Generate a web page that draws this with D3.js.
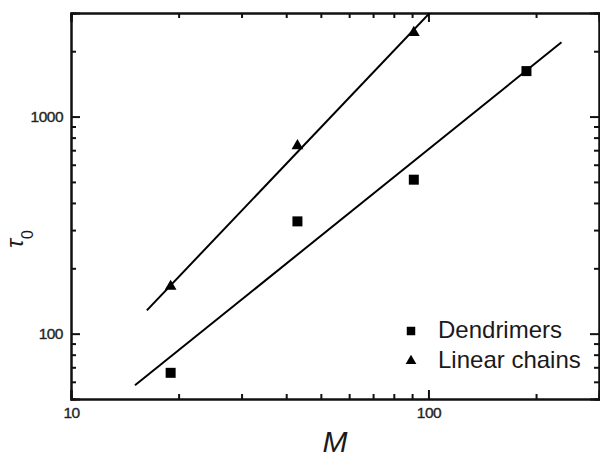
<!DOCTYPE html>
<html>
<head>
<script src="https://d3js.org/d3.v7.min.js"></script>
<style>
  body { margin: 0; background: #fff; }
  text { font-family: "Liberation Sans", Arial, sans-serif; fill: #1a1a1a; }
</style>
</head>
<body>
<script>
// data
var dendM = [19, 43, 91, 188];
var dendTau = [66, 329, 512, 1620];
var chainM = [19, 43, 91];
var chainTau = [165, 733, 2440];
// fitted lines (end points in data units)
var dendFitM = [15.1, 235.6];
var dendFitTau = [57.8, 2198];
var chainFitM = [16.3, 110];
var chainFitTau = [128, 3490];

var xMajor = [10, 100];
var xMinor = [20, 30, 40, 50, 60, 70, 80, 90, 200];
var yMajor = [100, 1000];
var yMinor = [60, 70, 80, 90, 200, 300, 400, 500, 600, 700, 800, 900, 2000];

var legendNames = ["Dendrimers", "Linear chains"];

var W = 600, H = 457;
var mLeft = 71, mRight = 599, mTop = 13, mBottom = 399;

var svg = d3.select("body").append("svg")
    .attr("width", W).attr("height", H);

var x = d3.scaleLog().domain([10, 300]).range([mLeft, mRight]);
var y = d3.scaleLog().domain([50, 3000]).range([mBottom, mTop]);

svg.append("clipPath").attr("id", "clip")
  .append("rect").attr("x", mLeft).attr("y", mTop)
  .attr("width", mRight - mLeft).attr("height", mBottom - mTop);

// axes, ticks pointing inward on all four sides
function drawAxis(axisFn, scale, pos, major, minor, labels) {
  var g = svg.append("g").attr("transform", pos);
  g.call(axisFn(scale).tickValues(minor).tickSize(-5).tickFormat(""));
  var g2 = svg.append("g").attr("transform", pos);
  g2.call(axisFn(scale).tickValues(major).tickSize(-9).tickPadding(labels ? 8 : 0)
      .tickFormat(labels ? d3.format("d") : ""));
  [g, g2].forEach(function(a) {
    a.attr("font-size", null).attr("font-family", null);
    a.selectAll("path").attr("stroke", "#111").attr("stroke-width", 2);
    a.selectAll("line").attr("stroke", "#111").attr("stroke-width", 2);
    a.selectAll("text").style("font-size", "15.5px").attr("fill", "#111")
      .attr("stroke", "#333").attr("stroke-width", 0.4).style("letter-spacing", "-0.5px");
  });
}
drawAxis(d3.axisBottom, x, "translate(0," + mBottom + ")", xMajor, xMinor, true);
drawAxis(d3.axisTop, x, "translate(0," + mTop + ")", xMajor, xMinor, false);
drawAxis(d3.axisLeft, y, "translate(" + mLeft + ",0)", yMajor, yMinor, true);
drawAxis(d3.axisRight, y, "translate(" + mRight + ",0)", yMajor, yMinor, false);

// fit lines
var line = d3.line().x(function(d) { return x(d[0]); }).y(function(d) { return y(d[1]); });
var plot = svg.append("g").attr("clip-path", "url(#clip)");
plot.append("path").datum(d3.zip(dendFitM, dendFitTau))
  .attr("d", line).attr("fill", "none").attr("stroke", "#000").attr("stroke-width", 2);
plot.append("path").datum(d3.zip(chainFitM, chainFitTau))
  .attr("d", line).attr("fill", "none").attr("stroke", "#000").attr("stroke-width", 2);

// points
var sq = d3.symbol().type(d3.symbolSquare).size(100);
var tri = d3.symbol().type(d3.symbolTriangle).size(60);
svg.selectAll(".dend").data(d3.zip(dendM, dendTau)).enter().append("path")
  .attr("class", "dend").attr("d", sq).attr("fill", "#000")
  .attr("transform", function(d) { return "translate(" + x(d[0]) + "," + y(d[1]) + ")"; });
svg.selectAll(".chain").data(d3.zip(chainM, chainTau)).enter().append("path")
  .attr("class", "chain").attr("d", tri).attr("fill", "#000")
  .attr("transform", function(d) { return "translate(" + x(d[0]) + "," + y(d[1]) + ")"; });

// legend
var leg = svg.append("g").attr("transform", "translate(411,331)");
leg.append("path").attr("d", d3.symbol().type(d3.symbolSquare).size(72)).attr("fill", "#000");
leg.append("path").attr("d", d3.symbol().type(d3.symbolTriangle).size(50)).attr("fill", "#000")
  .attr("transform", "translate(0,30)");
leg.selectAll("text.lg").data(legendNames).enter().append("text")
  .attr("class", "lg").attr("x", 27).attr("y", function(d, i) { return 7 + i * 30; })
  .style("font-size", "24px").text(function(d) { return d; });

// axis titles
svg.append("text").attr("x", (mLeft + mRight) / 2).attr("y", 452)
  .attr("text-anchor", "middle").style("font-size", "30px").attr("font-style", "italic")
  .text("M");
var yt = svg.append("text").attr("transform", "translate(23,239) rotate(-90)")
  .attr("text-anchor", "middle");
yt.append("tspan").style("font-size", "24px").attr("font-style", "italic").text("τ");
yt.append("tspan").style("font-size", "16px").attr("dy", 10).text("0");
</script>
</body>
</html>
